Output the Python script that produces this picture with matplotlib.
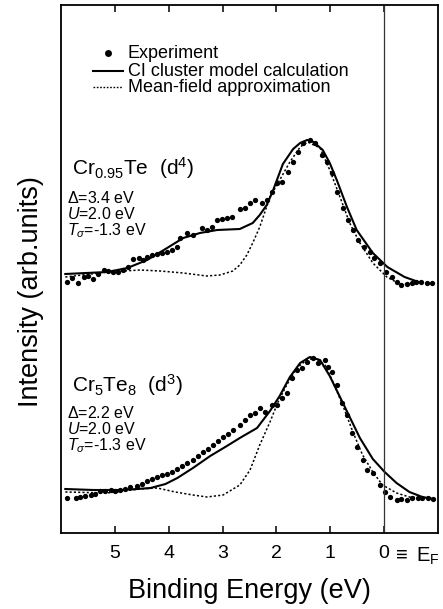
import matplotlib
matplotlib.use("Agg")
import matplotlib.pyplot as plt

plt.rcParams['font.family'] = ['Liberation Sans', 'DejaVu Sans']
plt.rcParams['mathtext.fontset'] = 'custom'
plt.rcParams['mathtext.rm'] = 'Liberation Sans'
plt.rcParams['mathtext.it'] = 'Liberation Sans:italic'
plt.rcParams['mathtext.bf'] = 'Liberation Sans:bold'

# ---- Cr0.95Te (d4) ----
te_exp_E = [5.88, 5.79, 5.69, 5.58, 5.49, 5.40, 5.31, 5.21, 5.12, 5.03, 4.94, 4.84,
            4.75, 4.66, 4.56, 4.47, 4.40, 4.31, 4.21, 4.12, 4.03, 3.94, 3.84, 3.79,
            3.66, 3.55, 3.38, 3.29, 3.19, 3.10, 3.01, 2.92, 2.82, 2.68, 2.58, 2.49,
            2.40, 2.27, 2.18, 2.08, 1.99, 1.90, 1.79, 1.69, 1.60, 1.51, 1.38, 1.29,
            1.16, 1.06, 0.97, 0.88, 0.77, 0.68, 0.58, 0.49, 0.38, 0.27, 0.18, 0.08,
            -0.03, -0.14, -0.23, -0.32, -0.42, -0.51, -0.60, -0.69, -0.79, -0.88]
te_exp_I = [0.01, 0.05, 0.00, 0.06, 0.07, 0.04, 0.09, 0.13, 0.12, 0.11, 0.11, 0.13,
            0.16, 0.24, 0.25, 0.23, 0.26, 0.28, 0.29, 0.30, 0.31, 0.33, 0.36, 0.45,
            0.50, 0.48, 0.55, 0.53, 0.56, 0.63, 0.64, 0.65, 0.66, 0.74, 0.75, 0.80,
            0.83, 0.80, 0.83, 0.91, 1.00, 1.01, 1.11, 1.21, 1.31, 1.40, 1.43, 1.40,
            1.28, 1.21, 1.10, 0.91, 0.75, 0.63, 0.53, 0.43, 0.36, 0.31, 0.25, 0.20,
            0.11, 0.06, 0.01, -0.02, -0.01, 0.00, 0.01, 0.01, 0.00, 0.00]
te_ci_E = [5.92, 5.14, 4.77, 4.40, 4.03, 3.73, 3.42, 3.10, 2.68, 2.44, 2.31, 2.18,
           2.06, 1.88, 1.69, 1.56, 1.43, 1.31, 1.14, 1.01, 0.88, 0.69, 0.51, 0.21,
           -0.06, -0.38, -0.69]
te_ci_I = [0.09, 0.11, 0.15, 0.23, 0.35, 0.45, 0.50, 0.53, 0.54, 0.60, 0.68, 0.78,
           0.93, 1.19, 1.34, 1.40, 1.43, 1.41, 1.33, 1.20, 1.03, 0.76, 0.53, 0.30,
           0.16, 0.06, 0.00]
te_mf_E = [5.92, 5.14, 4.53, 4.16, 3.73, 3.29, 3.05, 2.81, 2.68, 2.55, 2.44, 2.31,
           2.12, 1.94, 1.75, 1.56, 1.42, 1.19, 1.01, 0.82, 0.64, 0.45, 0.21, -0.05,
           -0.29, -0.47]
te_mf_I = [0.06, 0.11, 0.13, 0.12, 0.10, 0.07, 0.08, 0.12, 0.18, 0.28, 0.40, 0.56,
           0.86, 1.03, 1.21, 1.36, 1.41, 1.35, 1.13, 0.86, 0.60, 0.40, 0.20, 0.06,
           -0.01, -0.01]

# ---- Cr5Te8 (d3) ----
te8_exp_E = [5.88, 5.73, 5.64, 5.55, 5.45, 5.36, 5.27, 5.18, 5.08, 4.99, 4.90, 4.81,
             4.71, 4.58, 4.49, 4.40, 4.31, 4.21, 4.12, 4.03, 3.94, 3.84, 3.75, 3.66,
             3.55, 3.45, 3.36, 3.27, 3.18, 3.08, 2.99, 2.90, 2.81, 2.68, 2.58, 2.49,
             2.40, 2.31, 2.21, 2.08, 1.99, 1.90, 1.81, 1.71, 1.62, 1.53, 1.44, 1.32,
             1.23, 1.10, 1.05, 0.97, 0.88, 0.79, 0.69, 0.60, 0.51, 0.40, 0.31, 0.21,
             0.08, -0.01, -0.10, -0.23, -0.32, -0.42, -0.51, -0.62, -0.71, -0.81, -0.90]
te8_exp_I = [0.00, 0.00, 0.01, 0.02, 0.03, 0.04, 0.07, 0.07, 0.08, 0.07, 0.08, 0.09,
             0.11, 0.12, 0.14, 0.17, 0.19, 0.21, 0.23, 0.24, 0.26, 0.29, 0.32, 0.35,
             0.38, 0.42, 0.46, 0.49, 0.53, 0.57, 0.61, 0.64, 0.68, 0.73, 0.78, 0.83,
             0.85, 0.90, 0.86, 0.93, 0.93, 1.00, 1.05, 1.20, 1.28, 1.30, 1.36, 1.40,
             1.35, 1.38, 1.31, 1.26, 1.13, 0.95, 0.83, 0.65, 0.51, 0.38, 0.28, 0.25,
             0.13, 0.06, 0.01, -0.02, -0.01, -0.02, 0.00, 0.00, 0.00, 0.00, -0.01]
te8_ci_E = [5.92, 5.40, 4.84, 4.34, 4.06, 3.84, 3.55, 3.23, 2.92, 2.68, 2.36, 2.12,
            1.94, 1.75, 1.56, 1.38, 1.19, 1.01, 0.82, 0.64, 0.45, 0.21, -0.01, -0.23,
            -0.47, -0.71, -0.81]
te8_ci_I = [0.09, 0.08, 0.08, 0.10, 0.14, 0.20, 0.30, 0.42, 0.52, 0.60, 0.70, 0.87,
            1.02, 1.21, 1.35, 1.41, 1.38, 1.22, 1.01, 0.81, 0.60, 0.39, 0.26, 0.15,
            0.06, 0.01, 0.00]
te8_mf_E = [5.92, 5.14, 4.53, 4.21, 3.88, 3.55, 3.29, 2.99, 2.68, 2.49, 2.31, 2.12,
            1.97, 1.81, 1.62, 1.44, 1.29, 1.10, 0.95, 0.77, 0.58, 0.40, 0.21, 0.03,
            -0.23, -0.47, -0.71, -0.88]
te8_mf_I = [0.06, 0.05, 0.09, 0.10, 0.06, 0.03, 0.01, 0.03, 0.13, 0.28, 0.53, 0.76,
            0.96, 1.13, 1.30, 1.38, 1.40, 1.33, 1.16, 0.93, 0.66, 0.43, 0.26, 0.13,
            0.05, 0.01, 0.00, 0.00]

offset_top = 2.50
offset_bottom = 0.35

tick_values = [5, 4, 3, 2, 1, 0]
tick_labels = ["5", "4", "3", "2", "1", "0"]

fig = plt.figure(figsize=(4.43, 6.09), dpi=100)
ax = fig.add_axes([61 / 443, 76 / 609, 377 / 443, 528 / 609])

dot_kw = dict(ls='none', marker='o', ms=3.8, color='black', mec='none')
ci_kw = dict(color='black', lw=1.5)
mf_kw = dict(color='black', lw=1.1, ls=(0, (1.4, 1.4)))

for E_exp, I_exp, E_ci, I_ci, E_mf, I_mf, off in [
        (te_exp_E, te_exp_I, te_ci_E, te_ci_I, te_mf_E, te_mf_I, offset_top),
        (te8_exp_E, te8_exp_I, te8_ci_E, te8_ci_I, te8_mf_E, te8_mf_I, offset_bottom)]:
    ax.plot(E_mf, [v + off for v in I_mf], **mf_kw)
    ax.plot(E_ci, [v + off for v in I_ci], **ci_kw)
    ax.plot(E_exp, [v + off for v in I_exp], **dot_kw)

ax.axvline(0, color='#333333', lw=0.9)

ax.set_xlim(6, -1)
ax.set_ylim(0, 5.28)
ax.set_yticks([])
ax.set_xticks(tick_values)
ax.set_xticklabels(tick_labels, fontsize=14)
ax.tick_params(axis='x', direction='in', length=5, width=1.1, top=True,
               pad=9)
for s in ax.spines.values():
    s.set_linewidth(1.3)

ax.text(-0.14, -0.045, r"$\equiv$ E$_\mathrm{F}$", transform=ax.get_xaxis_transform(),
        ha='left', va='center', fontsize=14.5)

ax.set_xlabel("Binding Energy (eV)", fontsize=19.5, labelpad=11)
ax.set_ylabel("Intensity (arb.units)", fontsize=19.5)
ax.yaxis.set_label_coords(-0.045, 0.458)

# legend drawn by hand
ax.plot([5.12], [4.80], ls='none', marker='o', ms=5, color='black', mec='none')
ax.text(4.76, 4.80, "Experiment", fontsize=13, va='center', ha='left')
ax.plot([5.40, 4.84], [4.62, 4.62], **ci_kw)
ax.text(4.76, 4.62, "CI cluster model calculation", fontsize=13,
        va='center', ha='left')
ax.plot([5.40, 4.84], [4.46, 4.46], color='black', lw=1.0, ls=(0, (1.2, 1.2)))
ax.text(4.76, 4.46, "Mean-field approximation", fontsize=13,
        va='center', ha='left')

# sample labels and model parameters
params_te = "\n".join([r"$\mathit{Δ}$=3.4 eV", r"$\mathit{U}$=2.0 eV",
                       r"$\mathit{T}_{\mathit{σ}}$=-1.3 eV"])
params_te8 = "\n".join([r"$\mathit{Δ}$=2.2 eV", r"$\mathit{U}$=2.0 eV",
                        r"$\mathit{T}_{\mathit{σ}}$=-1.3 eV"])

ax.text(5.80, 3.58, r"Cr$_{0.95}$Te  (d$^4$)", fontsize=15, va='baseline')
ax.text(5.89, 2.98, params_te, fontsize=11.5, va='baseline', linespacing=0.96)

ax.text(5.80, 1.41, r"Cr$_5$Te$_8$  (d$^3$)", fontsize=15, va='baseline')
ax.text(5.89, 0.83, params_te8, fontsize=11.5, va='baseline', linespacing=0.96)

fig.savefig("out.png", dpi=100)
